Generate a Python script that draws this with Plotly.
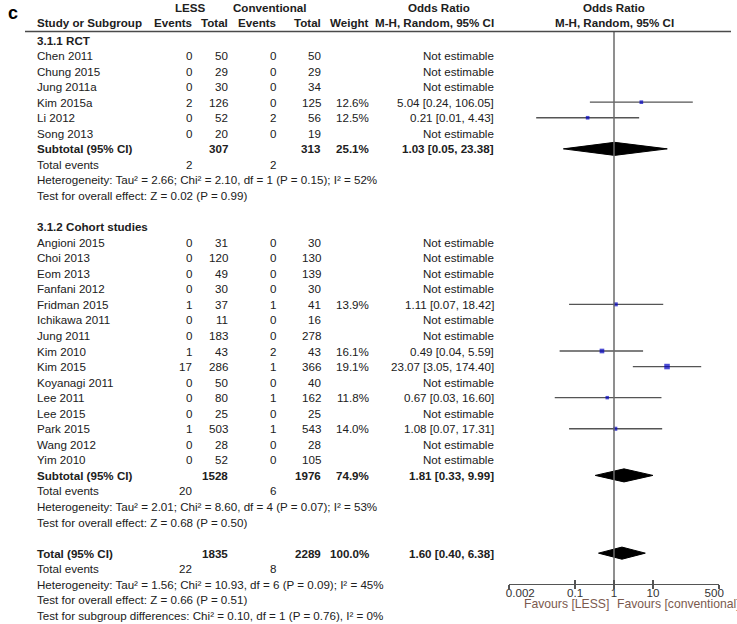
import math
import plotly.graph_objects as go

# ---------------- DATA ----------------
rct_label = "3.1.1 RCT"
rct_names = ["Chen 2011", "Chung 2015", "Jung 2011a", "Kim 2015a", "Li 2012", "Song 2013"]
rct_less_events = [0, 0, 0, 2, 0, 0]
rct_less_total = [50, 29, 30, 126, 52, 20]
rct_conv_events = [0, 0, 0, 0, 2, 0]
rct_conv_total = [50, 29, 34, 125, 56, 19]
rct_weight = [None, None, None, 12.6, 12.5, None]
rct_or = [None, None, None, 5.04, 0.21, None]
rct_lo = [None, None, None, 0.24, 0.01, None]
rct_hi = [None, None, None, 106.05, 4.43, None]
rct_sub_totals = [307, 313]
rct_sub_weight = 25.1
rct_sub_or = [1.03, 0.05, 23.38]
rct_sub_events = [2, 2]
rct_het = [2.66, 2.10, 1, 0.15, 52]      # Tau2, Chi2, df, P, I2
rct_test = [0.02, 0.99]                  # Z, P

cohort_label = "3.1.2 Cohort studies"
cohort_names = ["Angioni 2015", "Choi 2013", "Eom 2013", "Fanfani 2012", "Fridman 2015",
                "Ichikawa 2011", "Jung 2011", "Kim 2010", "Kim 2015", "Koyanagi 2011",
                "Lee 2011", "Lee 2015", "Park 2015", "Wang 2012", "Yim 2010"]
cohort_less_events = [0, 0, 0, 0, 1, 0, 0, 1, 17, 0, 0, 0, 1, 0, 0]
cohort_less_total = [31, 120, 49, 30, 37, 11, 183, 43, 286, 50, 80, 25, 503, 28, 52]
cohort_conv_events = [0, 0, 0, 0, 1, 0, 0, 2, 1, 0, 1, 0, 1, 0, 0]
cohort_conv_total = [30, 130, 139, 30, 41, 16, 278, 43, 366, 40, 162, 25, 543, 28, 105]
cohort_weight = [None, None, None, None, 13.9, None, None, 16.1, 19.1, None, 11.8, None, 14.0, None, None]
cohort_or = [None, None, None, None, 1.11, None, None, 0.49, 23.07, None, 0.67, None, 1.08, None, None]
cohort_lo = [None, None, None, None, 0.07, None, None, 0.04, 3.05, None, 0.03, None, 0.07, None, None]
cohort_hi = [None, None, None, None, 18.42, None, None, 5.59, 174.40, None, 16.60, None, 17.31, None, None]
cohort_sub_totals = [1528, 1976]
cohort_sub_weight = 74.9
cohort_sub_or = [1.81, 0.33, 9.99]
cohort_sub_events = [20, 6]
cohort_het = [2.01, 8.60, 4, 0.07, 53]
cohort_test = [0.68, 0.50]

total_totals = [1835, 2289]
total_weight = 100.0
total_or = [1.60, 0.40, 6.38]
total_events = [22, 8]
total_het = [1.56, 10.93, 6, 0.09, 45]
total_test = [0.66, 0.51]
subgroup_test = [0.10, 1, 0.76, 0]       # Chi2, df, P, I2

tick_vals = [0.002, 0.1, 1, 10, 500]
tick_text = ["\u00a0\u00a0\u00a0\u00a0\u00a0\u00a0\u00a00.002", "0.1", "1", "10", "500\u00a0\u00a0\u00a0"]

# ---------------- LAYOUT HELPERS ----------------
W, H = 737, 624
ROW0, ROWH = 40.0, 15.55
FONT = "Arial, 'Liberation Sans', sans-serif"
FS = 11.6
TXT = "#202020"


def row_of(px):
    return (px - ROW0) / ROWH


def xp(px):
    return px / W


# column right edges (px)
C_NAME = 36
C_LE, C_LT, C_CE, C_CT, C_W, C_OR = 193, 229, 277, 322, 370, 495

annotations = []


def txt(x_px, row, s, anchor="right", bold=False, color=TXT, size=FS):
    annotations.append(dict(
        x=xp(x_px), y=row, xref="paper", yref="y", text=("<b>%s</b>" % s) if bold else s,
        showarrow=False, xanchor=anchor, yanchor="middle", borderpad=0,
        font=dict(family=FONT, size=size, color=color)))


def fmt_or(v):
    return "%.2f [%.2f, %.2f]" % (v[0], v[1], v[2])


fig = go.Figure()

# vertical line of no effect
fig.add_trace(go.Scatter(x=[1, 1], y=[row_of(31.5), row_of(583)], mode="lines",
                         line=dict(color="#6a6a6a", width=1.5), xaxis="x2", hoverinfo="skip",
                         showlegend=False))

study_rows, study_or, study_w = [], [], []


def add_group(start, label, names, le, lt, ce, ct, w, o, lo, hi,
              sub_tot, sub_w, sub_or, sub_ev, het, test):
    r = start
    txt(C_NAME, r, label, "left", bold=True)
    for i, n in enumerate(names):
        r += 1
        txt(C_NAME, r, n, "left")
        txt(C_LE, r, str(le[i]))
        txt(C_LT, r, str(lt[i]))
        txt(C_CE, r, str(ce[i]))
        txt(C_CT, r, str(ct[i]))
        if o[i] is None:
            txt(C_OR, r, "Not estimable")
        else:
            txt(C_W, r, "%.1f%%" % w[i])
            txt(C_OR, r, fmt_or([o[i], lo[i], hi[i]]))
            fig.add_trace(go.Scatter(x=[lo[i], hi[i]], y=[r, r], mode="lines",
                                     line=dict(color="#555555", width=1.3),
                                     hoverinfo="skip", showlegend=False))
            study_rows.append(r)
            study_or.append(o[i])
            study_w.append(w[i])
    r += 1
    sub_row = r
    txt(C_NAME, r, "Subtotal (95% CI)", "left", bold=True)
    txt(C_LT, r, str(sub_tot[0]), bold=True)
    txt(C_CT, r, str(sub_tot[1]), bold=True)
    txt(C_W, r, "%.1f%%" % sub_w, bold=True)
    txt(C_OR, r, fmt_or(sub_or), bold=True)
    r += 1
    txt(C_NAME, r, "Total events", "left")
    txt(C_LE, r, str(sub_ev[0]))
    txt(C_CE, r, str(sub_ev[1]))
    r += 1
    txt(C_NAME, r, "Heterogeneity: Tau\u00b2 = %.2f; Chi\u00b2 = %.2f, df = %d (P = %.2f); I\u00b2 = %d%%" % tuple(het), "left")
    r += 1
    txt(C_NAME, r, "Test for overall effect: Z = %.2f (P = %.2f)" % tuple(test), "left")
    return r, sub_row


def diamond(row, v, h=0.42):
    fig.add_trace(go.Scatter(x=[v[1], v[0], v[2], v[0], v[1]],
                             y=[row, row - h, row, row + h, row],
                             mode="lines", fill="toself", fillcolor="black",
                             line=dict(color="black", width=1), hoverinfo="skip",
                             showlegend=False))


end1, sub1 = add_group(0, rct_label, rct_names, rct_less_events, rct_less_total, rct_conv_events,
                       rct_conv_total, rct_weight, rct_or, rct_lo, rct_hi, rct_sub_totals,
                       rct_sub_weight, rct_sub_or, rct_sub_events, rct_het, rct_test)
end2, sub2 = add_group(end1 + 2, cohort_label, cohort_names, cohort_less_events, cohort_less_total,
                       cohort_conv_events, cohort_conv_total, cohort_weight, cohort_or, cohort_lo,
                       cohort_hi, cohort_sub_totals, cohort_sub_weight, cohort_sub_or,
                       cohort_sub_events, cohort_het, cohort_test)
diamond(sub1, rct_sub_or)
diamond(sub2, cohort_sub_or)

# overall total
r = end2 + 2
tot_row = r
txt(C_NAME, r, "Total (95% CI)", "left", bold=True)
txt(C_LT, r, str(total_totals[0]), bold=True)
txt(C_CT, r, str(total_totals[1]), bold=True)
txt(C_W, r, "%.1f%%" % total_weight, bold=True)
txt(C_OR, r, fmt_or(total_or), bold=True)
diamond(tot_row, total_or, 0.39)
r += 1
txt(C_NAME, r, "Total events", "left")
txt(C_LE, r, str(total_events[0]))
txt(C_CE, r, str(total_events[1]))
r += 1
txt(C_NAME, r, "Heterogeneity: Tau\u00b2 = %.2f; Chi\u00b2 = %.2f, df = %d (P = %.2f); I\u00b2 = %d%%" % tuple(total_het), "left")
r += 1
txt(C_NAME, r, "Test for overall effect: Z = %.2f (P = %.2f)" % tuple(total_test), "left")
r += 1
txt(C_NAME, r, "Test for subgroup differences: Chi\u00b2 = %.2f, df = %d (P = %.2f), I\u00b2 = %d%%" % tuple(subgroup_test), "left")

# study markers
fig.add_trace(go.Scatter(x=study_or, y=study_rows, mode="markers",
                         marker=dict(symbol="square", color="#0000c0",
                                     size=[0.29 * w for w in study_w], line=dict(width=0)),
                         hoverinfo="skip", showlegend=False))

# headers
hy1, hy2 = row_of(7.5), row_of(22.5)
txt(7, row_of(12.5), "c", "left", bold=True, color="#000000", size=18)
txt(190, hy1, "LESS", "center", bold=True)
txt(269, hy1, "Conventional", "center", bold=True)
txt(439, hy1, "Odds Ratio", "center", bold=True)
txt(614, hy1, "Odds Ratio", "center", bold=True)
txt(C_NAME, hy2, "Study or Subgroup", "left", bold=True)
txt(C_LE, hy2, "Events", bold=True)
txt(C_LT, hy2, "Total", bold=True)
txt(C_CE, hy2, "Events", bold=True)
txt(C_CT, hy2, "Total", bold=True)
txt(C_W, hy2, "Weight", bold=True)
txt(C_OR, hy2, "M-H, Random, 95% CI", bold=True)
txt(614, hy2, "M-H, Random, 95% CI", "center", bold=True)

# favours labels
FAV = "#7b5a4e"
txt(610, row_of(604), "Favours [LESS]", "right", color=FAV, size=12.2)
txt(616, row_of(604), "Favours [conventional]", "left", color=FAV, size=12.2)

axis_pos = 1 - 583.5 / H
xr = [math.log10(0.002), math.log10(500)]
xdom = [509 / W, 719 / W]

fig.update_layout(
    template="none",
    width=W, height=H, margin=dict(l=0, r=0, t=0, b=0, pad=0, autoexpand=False),
    paper_bgcolor="white", plot_bgcolor="white",
    showlegend=False,
    annotations=annotations,
    shapes=[dict(type="line", xref="paper", yref="y", x0=25 / W, x1=731 / W,
                 y0=row_of(31.5), y1=row_of(31.5), line=dict(color="#4a4a4a", width=1.5))],
    xaxis=dict(type="log", range=xr, domain=xdom, anchor="free", position=axis_pos,
               automargin=False,
               showline=True, linecolor="#555555", linewidth=1.5,
               ticks="outside", ticklen=4, tickwidth=1.3, tickcolor="#555555",
               tickvals=tick_vals, ticktext=tick_text, ticklabelstandoff=-6,
               tickfont=dict(family=FONT, size=FS, color="#333333"),
               showgrid=False, zeroline=False, fixedrange=True),
    xaxis2=dict(type="log", range=xr, domain=xdom, anchor="free", position=axis_pos,
                automargin=False,
                overlaying="x", showline=False, ticks="inside", ticklen=4, tickwidth=1.3,
                tickcolor="#555555", tickvals=tick_vals, showticklabels=False,
                showgrid=False, zeroline=False, fixedrange=True),
    yaxis=dict(range=[row_of(H), row_of(0)], domain=[0, 1], visible=False, automargin=False,
               showgrid=False, zeroline=False, fixedrange=True),
)

fig.write_html("out.html", config={"displayModeBar": False, "staticPlot": True},
               post_script="document.body.style.margin='0';document.body.style.overflow='hidden';")
